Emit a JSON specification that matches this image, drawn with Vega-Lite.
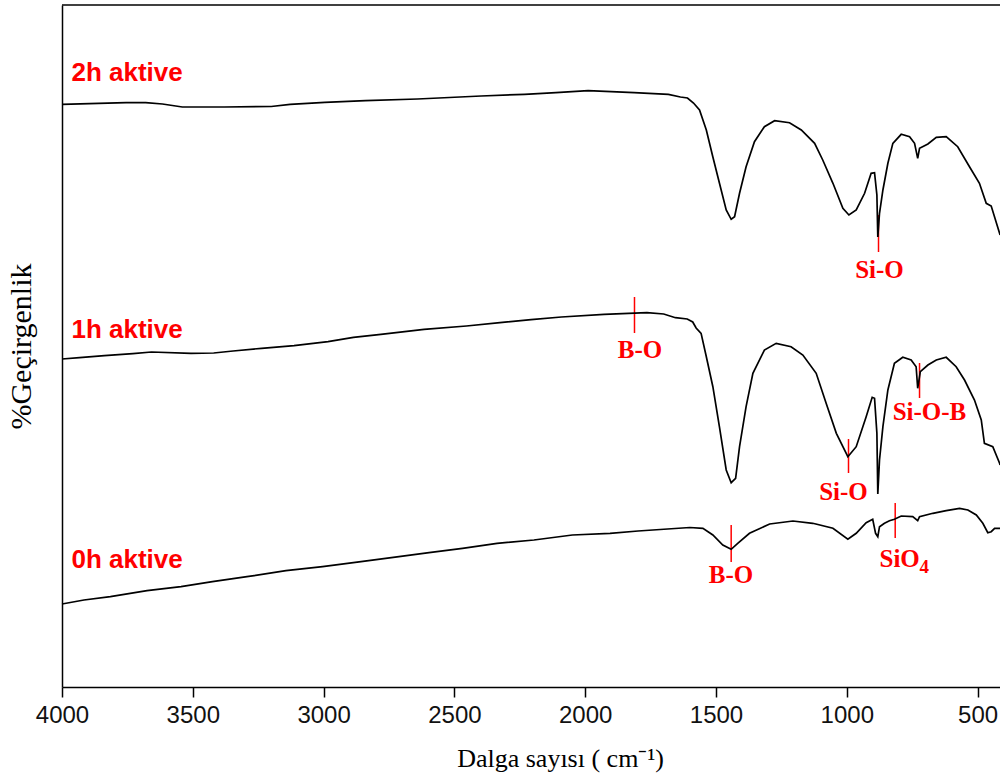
{
  "$schema": "https://vega.github.io/schema/vega-lite/v6.json",
  "width": 938,
  "height": 682,
  "autosize": {"type": "none"},
  "padding": {"left": 62, "top": 5, "right": 0, "bottom": 95},
  "background": "white",
  "config": {"view": {"stroke": null}},
  "datasets": {
    "spectra": [
      {"wn":4000,"T":582.7,"s":"2h"},{"wn":3755,"T":584.3,"s":"2h"},{"wn":3680,"T":584.3,"s":"2h"},{"wn":3616,"T":583,"s":"2h"},{"wn":3540,"T":580,"s":"2h"},{"wn":3379,"T":580,"s":"2h"},{"wn":3200,"T":580.5,"s":"2h"},{"wn":3128,"T":582.7,"s":"2h"},{"wn":2995,"T":584.7,"s":"2h"},{"wn":2840,"T":586.3,"s":"2h"},{"wn":2641,"T":588,"s":"2h"},{"wn":2398,"T":591,"s":"2h"},{"wn":2232,"T":592.7,"s":"2h"},{"wn":2112,"T":594.3,"s":"2h"},{"wn":1989,"T":596.3,"s":"2h"},{"wn":1813,"T":594.3,"s":"2h"},{"wn":1682,"T":592.7,"s":"2h"},{"wn":1636,"T":590,"s":"2h"},{"wn":1609,"T":589,"s":"2h"},{"wn":1586,"T":584,"s":"2h"},{"wn":1563,"T":577,"s":"2h"},{"wn":1537,"T":557,"s":"2h"},{"wn":1512,"T":530,"s":"2h"},{"wn":1487,"T":504,"s":"2h"},{"wn":1461,"T":477,"s":"2h"},{"wn":1442,"T":467.7,"s":"2h"},{"wn":1429,"T":470.3,"s":"2h"},{"wn":1410,"T":493.7,"s":"2h"},{"wn":1385,"T":520.3,"s":"2h"},{"wn":1353,"T":545.3,"s":"2h"},{"wn":1315,"T":560.3,"s":"2h"},{"wn":1276,"T":566.3,"s":"2h"},{"wn":1219,"T":564.3,"s":"2h"},{"wn":1174,"T":557,"s":"2h"},{"wn":1123,"T":543.7,"s":"2h"},{"wn":1092,"T":527,"s":"2h"},{"wn":1053,"T":503.7,"s":"2h"},{"wn":1015,"T":478.7,"s":"2h"},{"wn":992,"T":472,"s":"2h"},{"wn":964,"T":477,"s":"2h"},{"wn":932,"T":493.7,"s":"2h"},{"wn":907,"T":513.7,"s":"2h"},{"wn":894,"T":514.3,"s":"2h"},{"wn":885,"T":492,"s":"2h"},{"wn":881.5,"T":450,"s":"2h"},{"wn":875,"T":473.7,"s":"2h"},{"wn":862,"T":497,"s":"2h"},{"wn":843,"T":523.7,"s":"2h"},{"wn":824,"T":543.7,"s":"2h"},{"wn":792,"T":552.7,"s":"2h"},{"wn":760,"T":550.3,"s":"2h"},{"wn":741,"T":543.7,"s":"2h"},{"wn":729,"T":528.7,"s":"2h"},{"wn":722,"T":538.7,"s":"2h"},{"wn":690,"T":543,"s":"2h"},{"wn":658,"T":549.7,"s":"2h"},{"wn":620,"T":550.3,"s":"2h"},{"wn":576,"T":540.3,"s":"2h"},{"wn":531,"T":520.3,"s":"2h"},{"wn":493,"T":503.7,"s":"2h"},{"wn":467,"T":483.7,"s":"2h"},{"wn":448,"T":481,"s":"2h"},{"wn":416,"T":453.7,"s":"2h"},{"wn":414,"T":452,"s":"2h"},

      {"wn":4000,"T":328,"s":"1h"},{"wn":3933,"T":329.3,"s":"1h"},{"wn":3838,"T":331.3,"s":"1h"},{"wn":3729,"T":333.3,"s":"1h"},{"wn":3658,"T":335,"s":"1h"},{"wn":3507,"T":333.7,"s":"1h"},{"wn":3420,"T":334,"s":"1h"},{"wn":3346,"T":336,"s":"1h"},{"wn":3237,"T":338.7,"s":"1h"},{"wn":3113,"T":341.3,"s":"1h"},{"wn":2983,"T":345.3,"s":"1h"},{"wn":2886,"T":349.7,"s":"1h"},{"wn":2781,"T":352.7,"s":"1h"},{"wn":2616,"T":357.7,"s":"1h"},{"wn":2454,"T":361,"s":"1h"},{"wn":2326,"T":364.3,"s":"1h"},{"wn":2207,"T":367.3,"s":"1h"},{"wn":2091,"T":370,"s":"1h"},{"wn":1928,"T":372.7,"s":"1h"},{"wn":1764,"T":374.3,"s":"1h"},{"wn":1700,"T":373,"s":"1h"},{"wn":1655,"T":369.3,"s":"1h"},{"wn":1610,"T":368,"s":"1h"},{"wn":1589,"T":365,"s":"1h"},{"wn":1576,"T":359,"s":"1h"},{"wn":1557,"T":353.7,"s":"1h"},{"wn":1537,"T":330.3,"s":"1h"},{"wn":1512,"T":300.3,"s":"1h"},{"wn":1487,"T":260.3,"s":"1h"},{"wn":1461,"T":217,"s":"1h"},{"wn":1442,"T":204.3,"s":"1h"},{"wn":1425,"T":208.7,"s":"1h"},{"wn":1410,"T":240.3,"s":"1h"},{"wn":1385,"T":280.3,"s":"1h"},{"wn":1359,"T":313.7,"s":"1h"},{"wn":1315,"T":337,"s":"1h"},{"wn":1270,"T":343.7,"s":"1h"},{"wn":1213,"T":340.3,"s":"1h"},{"wn":1168,"T":332,"s":"1h"},{"wn":1117,"T":313.7,"s":"1h"},{"wn":1079,"T":283.7,"s":"1h"},{"wn":1040,"T":253.7,"s":"1h"},{"wn":996,"T":230.3,"s":"1h"},{"wn":964,"T":240.3,"s":"1h"},{"wn":926,"T":270.3,"s":"1h"},{"wn":903,"T":289.7,"s":"1h"},{"wn":894,"T":288.7,"s":"1h"},{"wn":885,"T":253.7,"s":"1h"},{"wn":881.5,"T":193,"s":"1h"},{"wn":875,"T":227,"s":"1h"},{"wn":862,"T":260.3,"s":"1h"},{"wn":843,"T":297,"s":"1h"},{"wn":818,"T":323.7,"s":"1h"},{"wn":786,"T":329.7,"s":"1h"},{"wn":754,"T":327,"s":"1h"},{"wn":735,"T":320.3,"s":"1h"},{"wn":729,"T":298.7,"s":"1h"},{"wn":719,"T":315.3,"s":"1h"},{"wn":690,"T":322,"s":"1h"},{"wn":658,"T":327,"s":"1h"},{"wn":620,"T":329.7,"s":"1h"},{"wn":582,"T":320.3,"s":"1h"},{"wn":550,"T":307,"s":"1h"},{"wn":512,"T":287,"s":"1h"},{"wn":486,"T":267,"s":"1h"},{"wn":474,"T":243.7,"s":"1h"},{"wn":442,"T":240.3,"s":"1h"},{"wn":416,"T":223.7,"s":"1h"},{"wn":414,"T":222,"s":"1h"},

      {"wn":4000,"T":83,"s":"0h"},{"wn":3916,"T":87,"s":"0h"},{"wn":3815,"T":90.3,"s":"0h"},{"wn":3675,"T":96.3,"s":"0h"},{"wn":3545,"T":100.3,"s":"0h"},{"wn":3425,"T":105.3,"s":"0h"},{"wn":3293,"T":110.3,"s":"0h"},{"wn":3144,"T":116.3,"s":"0h"},{"wn":3004,"T":120.3,"s":"0h"},{"wn":2857,"T":125.3,"s":"0h"},{"wn":2712,"T":130.3,"s":"0h"},{"wn":2597,"T":134.3,"s":"0h"},{"wn":2469,"T":138.7,"s":"0h"},{"wn":2337,"T":143.7,"s":"0h"},{"wn":2196,"T":147,"s":"0h"},{"wn":2049,"T":152,"s":"0h"},{"wn":1905,"T":153.7,"s":"0h"},{"wn":1798,"T":156,"s":"0h"},{"wn":1685,"T":158,"s":"0h"},{"wn":1600,"T":159.5,"s":"0h"},{"wn":1550,"T":158.7,"s":"0h"},{"wn":1512,"T":152,"s":"0h"},{"wn":1474,"T":142,"s":"0h"},{"wn":1442,"T":137.7,"s":"0h"},{"wn":1417,"T":143.7,"s":"0h"},{"wn":1372,"T":153.7,"s":"0h"},{"wn":1295,"T":163,"s":"0h"},{"wn":1206,"T":166,"s":"0h"},{"wn":1130,"T":163.7,"s":"0h"},{"wn":1053,"T":158.7,"s":"0h"},{"wn":996,"T":147.7,"s":"0h"},{"wn":964,"T":153.7,"s":"0h"},{"wn":926,"T":164.3,"s":"0h"},{"wn":901,"T":167.7,"s":"0h"},{"wn":890,"T":153.7,"s":"0h"},{"wn":881.5,"T":150.3,"s":"0h"},{"wn":875,"T":160.3,"s":"0h"},{"wn":856,"T":163.7,"s":"0h"},{"wn":837,"T":166.3,"s":"0h"},{"wn":818,"T":167.7,"s":"0h"},{"wn":792,"T":171,"s":"0h"},{"wn":748,"T":170.3,"s":"0h"},{"wn":729,"T":166.3,"s":"0h"},{"wn":722,"T":170.3,"s":"0h"},{"wn":671,"T":173.7,"s":"0h"},{"wn":620,"T":176.3,"s":"0h"},{"wn":569,"T":178.7,"s":"0h"},{"wn":537,"T":177,"s":"0h"},{"wn":505,"T":172,"s":"0h"},{"wn":480,"T":163.7,"s":"0h"},{"wn":461,"T":154.3,"s":"0h"},{"wn":448,"T":155.3,"s":"0h"},{"wn":435,"T":158.7,"s":"0h"},{"wn":414,"T":158.7,"s":"0h"}
    ],
    "ticks": [
      {"wn":878.8,"T":472,"T2":435},
      {"wn":1811.6,"T":390,"T2":354},
      {"wn":722,"T":324,"T2":289},
      {"wn":993.5,"T":248,"T2":214},
      {"wn":1442,"T":162,"T2":125},
      {"wn":815,"T":184,"T2":149}
    ],
    "samples": [
      {"wn":3964,"T":606,"label":"2h aktive"},
      {"wn":3964,"T":349,"label":"1h aktive"},
      {"wn":3964,"T":119,"label":"0h aktive"}
    ],
    "peaks": [
      {"wn":875,"T":409,"label":"Si-O"},
      {"wn":1790.5,"T":329,"label":"B-O"},
      {"wn":684,"T":267,"label":"Si-O-B"},
      {"wn":1012.6,"T":187,"label":"Si-O"},
      {"wn":1442.7,"T":104,"label":"B-O"}
    ],
    "sio": [{"wn":875,"T":120,"label":"SiO"}],
    "sub": [{"wn":722,"T":114,"label":"4"}]
  },
  "layer": [
    {
      "data": {"name": "ticks"},
      "mark": {"type": "rule", "color": "red", "strokeWidth": 1.5},
      "encoding": {
        "x": {"field": "wn", "type": "quantitative"},
        "y": {"field": "T", "type": "quantitative"},
        "y2": {"field": "T2"}
      }
    },
    {
      "data": {"values": [{}]},
      "mark": {"type": "rule", "color": "black", "strokeWidth": 1.5},
      "encoding": {"y": {"datum": 682}}
    },
    {
      "data": {"name": "spectra"},
      "mark": {"type": "line", "color": "black", "strokeWidth": 1.7, "interpolate": "linear"},
      "encoding": {
        "x": {
          "field": "wn", "type": "quantitative",
          "scale": {"domain": [4000, 414.4], "nice": false, "zero": false},
          "axis": {
            "values": [4000, 3500, 3000, 2500, 2000, 1500, 1000, 500],
            "format": "d",
            "title": "Dalga sayısı ( cm⁻¹)",
            "titleX": 498,
            "titleFont": "Liberation Serif", "titleFontSize": 26, "titleFontWeight": "normal", "titleColor": "black",
            "titlePadding": 18,
            "labelFont": "Liberation Sans", "labelFontSize": 24, "labelColor": "#111",
            "labelPadding": 6, "labelFlush": false, "labelOverlap": false,
            "tickSize": 10, "tickColor": "black", "tickWidth": 1.5,
            "domainColor": "black", "domainWidth": 1.5, "grid": false
          }
        },
        "y": {
          "field": "T", "type": "quantitative",
          "scale": {"domain": [0, 682], "nice": false, "zero": false},
          "axis": {
            "labels": false, "ticks": false, "grid": false,
            "domainColor": "black", "domainWidth": 1.5,
            "title": "%Geçirgenlik",
            "titleFont": "Liberation Serif", "titleFontSize": 30, "titleFontWeight": "normal", "titleColor": "black",
            "titlePadding": 26
          }
        },
        "detail": {"field": "s"}
      }
    },
    {
      "data": {"name": "samples"},
      "mark": {"type": "text", "color": "red", "font": "Liberation Sans", "fontWeight": "bold", "fontSize": 26, "align": "left", "baseline": "alphabetic"},
      "encoding": {
        "x": {"field": "wn", "type": "quantitative"},
        "y": {"field": "T", "type": "quantitative"},
        "text": {"field": "label"}
      }
    },
    {
      "data": {"name": "peaks"},
      "mark": {"type": "text", "color": "red", "font": "Liberation Serif", "fontWeight": "bold", "fontSize": 25, "align": "center", "baseline": "alphabetic"},
      "encoding": {
        "x": {"field": "wn", "type": "quantitative"},
        "y": {"field": "T", "type": "quantitative"},
        "text": {"field": "label"}
      }
    },
    {
      "data": {"name": "sio"},
      "mark": {"type": "text", "color": "red", "font": "Liberation Serif", "fontWeight": "bold", "fontSize": 25, "align": "left", "baseline": "alphabetic"},
      "encoding": {
        "x": {"field": "wn", "type": "quantitative"},
        "y": {"field": "T", "type": "quantitative"},
        "text": {"field": "label"}
      }
    },
    {
      "data": {"name": "sub"},
      "mark": {"type": "text", "color": "red", "font": "Liberation Serif", "fontWeight": "bold", "fontSize": 19, "align": "left", "baseline": "alphabetic"},
      "encoding": {
        "x": {"field": "wn", "type": "quantitative"},
        "y": {"field": "T", "type": "quantitative"},
        "text": {"field": "label"}
      }
    }
  ]
}
